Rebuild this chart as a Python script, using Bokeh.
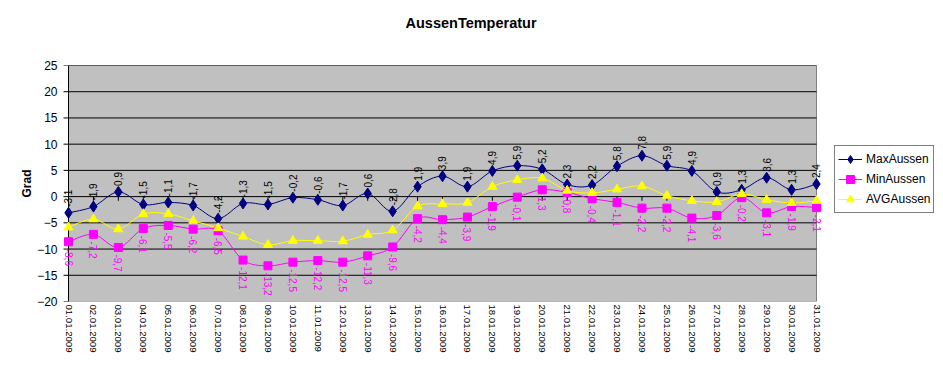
import math
from bokeh.plotting import figure
from bokeh.models import (Range1d, FixedTicker, ColumnDataSource, LabelSet, Legend,
                          LegendItem, Title)
from bokeh.core.properties import value
from bokeh.embed import file_html
from bokeh.resources import INLINE

dates = ["01.01.2009", "02.01.2009", "03.01.2009", "04.01.2009", "05.01.2009",
         "06.01.2009", "07.01.2009", "08.01.2009", "09.01.2009", "10.01.2009",
         "11.01.2009", "12.01.2009", "13.01.2009", "14.01.2009", "15.01.2009",
         "16.01.2009", "17.01.2009", "18.01.2009", "19.01.2009", "20.01.2009",
         "21.01.2009", "22.01.2009", "23.01.2009", "24.01.2009", "25.01.2009",
         "26.01.2009", "27.01.2009", "28.01.2009", "29.01.2009", "30.01.2009",
         "31.01.2009"]

max_aussen = [-3.1, -1.9, 0.9, -1.5, -1.1, -1.7, -4.2, -1.3, -1.5, -0.2,
              -0.6, -1.7, 0.6, -2.8, 1.9, 3.9, 1.9, 4.9, 5.9, 5.2,
              2.3, 2.2, 5.8, 7.8, 5.9, 4.9, 0.9, 1.3, 3.6, 1.3, 2.4]
min_aussen = [-8.6, -7.2, -9.7, -6.1, -5.5, -6.2, -6.5, -12.1, -13.2, -12.5,
              -12.2, -12.5, -11.3, -9.6, -4.2, -4.4, -3.9, -1.9, -0.1, 1.3,
              0.8, -0.4, -1.1, -2.2, -2.2, -4.1, -3.6, -0.2, -3.1, -1.9, -2.1]
avg_aussen = [-5.85, -4.3, -6.2, -3.3, -3.3, -4.6, -6.0, -7.6, -9.2, -8.4,
              -8.4, -8.5, -7.25, -6.4, -1.85, -1.4, -1.15, 1.9, 3.2, 3.5,
              1.15, 0.7, 1.4, 2.0, 0.2, -0.8, -1.0, 0.5, -0.6, -1.2, -0.8]

y_ticks = [-20, -15, -10, -5, 0, 5, 10, 15, 20, 25]

FONT = "Liberation Sans"
xs = list(range(len(dates)))

# layout in pixels (figure coordinates)
W, H = 935, 360
FRAME_L = 58            # frame starts a little left of the plot area
AREA_L, AREA_R = 68, 816  # gray plot area
px_per_x = (AREA_R - AREA_L) / (xs[-1] - xs[0])
x_start = xs[0] - (AREA_L - FRAME_L) / px_per_x
x_end = xs[-1] + (W - AREA_R) / px_per_x
tick_len_x = 5 / px_per_x


def smooth_source(ys):
    n = len(ys)
    d = dict(x0=[], y0=[], x1=[], y1=[], cx0=[], cy0=[], cx1=[], cy1=[])
    for i in range(n - 1):
        pm = max(i - 1, 0)
        pp = min(i + 2, n - 1)
        d["x0"].append(xs[i]); d["y0"].append(ys[i])
        d["x1"].append(xs[i + 1]); d["y1"].append(ys[i + 1])
        d["cx0"].append(xs[i] + (xs[i + 1] - xs[pm]) / 6)
        d["cy0"].append(ys[i] + (ys[i + 1] - ys[pm]) / 6)
        d["cx1"].append(xs[i + 1] - (xs[pp] - xs[i]) / 6)
        d["cy1"].append(ys[i + 1] - (ys[pp] - ys[i]) / 6)
    return ColumnDataSource(d)


def fmt(v):
    return f"{v:.1f}".replace(".", ",")


p = figure(width=W, height=H, output_backend="svg", toolbar_location=None,
           x_range=Range1d(x_start, x_end), y_range=Range1d(y_ticks[0], y_ticks[-1]),
           min_border_left=FRAME_L, min_border_right=0, min_border_top=65,
           min_border_bottom=59)
p.border_fill_color = "white"
p.background_fill_color = "white"
p.outline_line_color = None

# axes
p.xaxis.ticker = FixedTicker(ticks=xs)
p.xaxis.major_label_overrides = {i: d for i, d in enumerate(dates)}
p.xaxis.major_label_orientation = -math.pi / 2
p.xaxis.major_label_text_font = FONT
p.xaxis.major_label_text_font_size = "9.6px"
p.xaxis.major_label_text_color = "black"
p.xaxis.major_label_standoff = 3
p.xaxis.major_tick_line_color = None
p.xaxis.major_tick_out = 0
p.xaxis.major_tick_in = 0
p.xaxis.minor_tick_line_color = None
p.xaxis.axis_line_color = None

p.yaxis.ticker = FixedTicker(ticks=y_ticks)
p.yaxis.major_label_text_font = FONT
p.yaxis.major_label_text_font_size = "12px"
p.yaxis.major_label_text_color = "black"
p.yaxis.major_tick_out = 0
p.yaxis.major_tick_in = 0
p.yaxis.major_label_standoff = 1
p.yaxis.minor_tick_line_color = None
p.yaxis.axis_line_color = None
p.yaxis.major_tick_line_color = None
p.yaxis.axis_label = "Grad"
p.yaxis.axis_label_text_font = FONT
p.yaxis.axis_label_text_font_size = "12px"
p.yaxis.axis_label_text_font_style = "bold"
p.yaxis.axis_label_text_color = "black"
p.yaxis.axis_label_standoff = 0

p.xgrid.grid_line_color = None
p.ygrid.grid_line_color = None

# gray plot area
p.quad(left=[xs[0]], right=[xs[-1]], bottom=[y_ticks[0]], top=[y_ticks[-1]],
       fill_color="#C0C0C0", line_color="#808080", line_width=1)
# horizontal grid
p.segment(x0=[xs[0]] * (len(y_ticks) - 1), x1=[xs[-1]] * (len(y_ticks) - 1),
          y0=y_ticks[1:], y1=y_ticks[1:], line_color="black", line_width=1)
# value axis line + ticks
p.segment(x0=[xs[0]], x1=[xs[0]], y0=[y_ticks[0]], y1=[y_ticks[-1]],
          line_color="black", line_width=1)
p.segment(x0=[xs[0]] * len(y_ticks), x1=[xs[0] - tick_len_x] * len(y_ticks),
          y0=y_ticks, y1=y_ticks, line_color="black", line_width=1)
# category ticks on the zero line
p.segment(x0=xs, y0=[0] * len(xs), x1=xs, y1=[-0.8] * len(xs),
          line_color="black", line_width=1)

series = [
    ("MaxAussen", max_aussen, "#000080", "diamond", 11),
    ("MinAussen", min_aussen, "#FF00FF", "square", 8),
    ("AVGAussen", avg_aussen, "#FFFF00", "triangle", 9),
]
items = []
for name, ys, color, marker, size in series:
    src = smooth_source(ys)
    br = p.bezier(x0="x0", y0="y0", x1="x1", y1="y1", cx0="cx0", cy0="cy0",
                  cx1="cx1", cy1="cy1", source=src, line_color=color, line_width=1)
    sr = p.scatter(xs, ys, marker=marker, size=size, fill_color=color,
                   line_color=color)
    items.append(LegendItem(label=name, renderers=[br, sr]))

# data labels
max_src = ColumnDataSource(dict(x=xs, y=max_aussen, t=[fmt(v) for v in max_aussen]))
min_src = ColumnDataSource(dict(x=xs, y=min_aussen, t=[fmt(v) for v in min_aussen]))
p.add_layout(LabelSet(x="x", y="y", text="t", source=max_src, angle=math.pi / 2,
                      y_offset=6, text_align="left", text_baseline="middle",
                      text_font=value(FONT), text_font_size=value("10px"),
                      text_color="black"))
p.add_layout(LabelSet(x="x", y="y", text="t", source=min_src, angle=-math.pi / 2,
                      y_offset=-7, text_align="left", text_baseline="middle",
                      text_font=value(FONT), text_font_size=value("10px"),
                      text_color="#FF00FF"))

# title (spacer keeps it near the top edge)
p.add_layout(Title(text=" ", text_font_size="30px", standoff=0), "above")
p.add_layout(Title(text="AussenTemperatur", align="left", offset=405 - FRAME_L,
                   text_font=FONT, text_font_size="14.5px",
                   text_font_style="bold", text_color="black", standoff=0),
             "above")

legend = Legend(items=items, location=(834 - FRAME_L, 88), orientation="vertical",
                border_line_color="black", border_line_width=1,
                background_fill_color="white", background_fill_alpha=1,
                label_text_font=FONT, label_text_font_size="12px",
                label_text_color="black", glyph_width=24, glyph_height=20,
                label_height=20, label_standoff=4, spacing=0, padding=3,
                margin=0)
p.add_layout(legend)

open("out.html", "w").write(file_html(p, INLINE))
